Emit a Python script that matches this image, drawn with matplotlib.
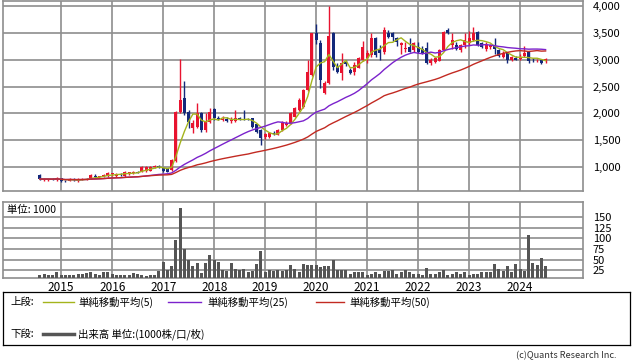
import matplotlib
matplotlib.use("Agg")
import matplotlib.pyplot as plt
import numpy as np
import pandas as pd

plt.rcParams['font.family'] = ['Noto Sans CJK JP', 'DejaVu Sans']

# monthly candles, Aug 2014 - Jul 2024
open_ = [850, 750, 755, 775, 750, 790, 740, 735, 775, 750,
         760, 760, 790, 840, 815, 820, 830, 860, 840, 860,
         830, 860, 880, 900, 910, 920, 930, 1000, 1010, 975,
         975, 945, 1110, 2030, 2280, 2030, 1730, 1750, 2010, 1690,
         1845, 2075, 1920, 1870, 1900, 1850, 1860, 1910, 1900, 1895,
         1910, 1800, 1690, 1565, 1565, 1625, 1600, 1690, 1790, 1815,
         1940, 2065, 2125, 2440, 2715, 3500, 3310, 2380, 2570, 3500,
         2870, 2750, 2960, 2810, 2780, 2850, 3000, 3030, 3090, 3405,
         3200, 3150, 3500, 3500, 3405, 3280, 3200, 3240, 3185, 3240,
         3200, 3220, 2950, 2960, 2985, 3185, 3555, 3275, 3275, 3185,
         3275, 3310, 3370, 3525, 3310, 3200, 3240, 3260, 3185, 3060,
         3130, 3000, 3040, 3010, 3070, 3140, 3000, 2990, 2990, 2970]
high = [870, 790, 785, 790, 810, 800, 760, 790, 790, 800,
        790, 800, 870, 860, 840, 870, 900, 895, 880, 880,
        920, 915, 930, 920, 1010, 1010, 1020, 1030, 1030, 1000,
        990, 1150, 2050, 3010, 2610, 2060, 1870, 2195, 2030, 2010,
        2100, 2100, 1960, 1950, 1940, 1930, 2070, 1940, 2060, 1920,
        1920, 1810, 1700, 1640, 1660, 1680, 1700, 1850, 1860, 2030,
        2120, 2280, 2460, 3000, 3500, 3670, 3370, 2600, 4005, 3520,
        2950, 3130, 3000, 2840, 2960, 3050, 3350, 3180, 3500, 3420,
        3280, 3610, 3560, 3520, 3430, 3330, 3330, 3400, 3330, 3330,
        3250, 3330, 3030, 3060, 3200, 3530, 3600, 3500, 3330, 3300,
        3500, 3530, 3610, 3540, 3330, 3330, 3300, 3400, 3200, 3170,
        3150, 3080, 3080, 3100, 3250, 3160, 3030, 3020, 3010, 3040]
low = [760, 740, 740, 760, 740, 720, 725, 730, 740, 720,
       750, 750, 780, 800, 800, 810, 820, 830, 820, 840,
       820, 850, 860, 880, 900, 910, 920, 980, 990, 900,
       900, 930, 1100, 2000, 1970, 1720, 1630, 1720, 1650, 1660,
       1820, 1880, 1880, 1850, 1840, 1830, 1840, 1880, 1870, 1880,
       1720, 1640, 1410, 1530, 1550, 1600, 1590, 1680, 1760, 1800,
       1930, 2050, 2100, 2420, 2700, 3300, 2475, 2360, 2550, 2810,
       2750, 2620, 2880, 2740, 2720, 2840, 2980, 2950, 3050, 3050,
       2990, 3100, 3400, 3350, 3250, 3100, 3150, 3140, 3150, 3120,
       3100, 2920, 2900, 2940, 2970, 3170, 3480, 3200, 3180, 3150,
       3230, 3280, 3350, 3250, 3220, 3170, 3200, 3100, 3050, 3040,
       2940, 2980, 2990, 2990, 3050, 2940, 2960, 2960, 2930, 2950]
close = [775, 775, 775, 770, 795, 735, 735, 775, 750, 760,
         780, 785, 850, 815, 820, 850, 880, 880, 860, 850,
         905, 900, 910, 890, 1000, 995, 1000, 1010, 1000, 920,
         915, 1130, 2030, 2250, 2000, 1845, 1820, 2010, 1690, 1845,
         2030, 1910, 1900, 1900, 1850, 1880, 1910, 1895, 1890, 1890,
         1750, 1660, 1535, 1615, 1640, 1615, 1690, 1830, 1830, 2000,
         2095, 2250, 2440, 2780, 3495, 3370, 2620, 2565, 3445, 2870,
         2770, 2940, 2920, 2760, 2900, 3030, 3245, 3130, 3405, 3090,
         3130, 3555, 3430, 3430, 3330, 3310, 3230, 3150, 3310, 3150,
         3130, 2940, 3000, 3030, 3185, 3525, 3500, 3370, 3200, 3275,
         3370, 3405, 3500, 3275, 3240, 3275, 3275, 3200, 3070, 3130,
         3000, 3050, 3000, 3060, 3130, 2970, 2990, 3000, 2950, 3010]
# volume, unit 1000
volume = [15, 16, 15, 14, 20, 15, 14, 14, 15, 16,
          16, 19, 20, 16, 15, 22, 21, 16, 15, 14,
          14, 15, 19, 16, 15, 12, 15, 13, 24, 44,
          26, 34, 96, 172, 75, 48, 34, 42, 19, 42,
          60, 48, 44, 26, 23, 42, 29, 26, 29, 20,
          24, 39, 71, 21, 26, 24, 26, 24, 26, 37,
          28, 20, 40, 37, 37, 37, 33, 34, 34, 50,
          26, 26, 26, 17, 20, 20, 20, 14, 16, 22,
          17, 23, 24, 26, 17, 22, 26, 21, 17, 16,
          15, 30, 16, 17, 20, 26, 15, 17, 21, 16,
          21, 15, 16, 17, 22, 21, 21, 39, 29, 24,
          34, 22, 39, 29, 24, 108, 43, 37, 54, 34]
years = ['2015', '2016', '2017', '2018', '2019', '2020', '2021', '2022', '2023', '2024']
price_ticks = [1000, 1500, 2000, 2500, 3000, 3500, 4000]
vol_ticks = [25, 50, 75, 100, 125, 150]

RED = '#e8132f'
NAVY = '#13287a'
GRID = '#8e8e8e'

W, H = 638, 362
def box(x0, y0, x1, y1):
    return [x0 / W, 1 - y1 / H, (x1 - x0) / W, (y1 - y0) / H]

o = np.array(open_); hi = np.array(high); lo = np.array(low); c = np.array(close)
x = np.arange(len(c))
jan = [5 + 12 * k for k in range(len(years))]
ma5 = pd.Series(c).rolling(5, min_periods=1).mean()
ma25 = pd.Series(c).rolling(25, min_periods=1).mean()
ma50 = pd.Series(c).rolling(50, min_periods=1).mean()

fig = plt.figure(figsize=(6.38, 3.62), dpi=100)

# upper panel: candles + moving averages
ax = fig.add_axes(box(3, 1, 583, 191))
cols = np.where(c >= o, RED, NAVY)
ax.vlines(x, lo, hi, colors=cols, lw=1, zorder=3)
ax.bar(x, np.maximum(np.abs(c - o), 12), bottom=np.minimum(o, c), width=0.72,
       color=cols, lw=0, zorder=3)
ax.plot(x, ma5, color='#a4b41c', lw=1, zorder=4)
ax.plot(x, ma25, color='#7b22cc', lw=1, zorder=4)
ax.plot(x, ma50, color='#c22a22', lw=1, zorder=4)
ax.set_xlim(-8.7, 127.8)
ax.set_ylim(552, 4098)
ax.set_xticks(jan)
ax.set_xticklabels([])
ax.set_yticks(price_ticks)
ax.set_yticklabels([f'{t:,}' for t in price_ticks])
ax.yaxis.tick_right()
ax.tick_params(length=0, labelsize=8, pad=7)
ax.grid(True, color=GRID, lw=1.2, zorder=0)
ax.set_axisbelow(True)
for s in ax.spines.values():
    s.set_color(GRID); s.set_linewidth(1.2)

# lower panel: volume
axv = fig.add_axes(box(3, 202, 583, 278))
axv.bar(x, volume, width=0.7, color='#555555', zorder=3)
axv.set_xlim(-8.7, 127.8)
axv.set_ylim(7, 185)
axv.set_xticks(jan)
axv.set_xticklabels(years)
axv.set_yticks(vol_ticks)
axv.yaxis.tick_right()
axv.tick_params(length=0, labelsize=8, pad=7)
axv.tick_params(axis='x', pad=2, labelsize=8.5)
axv.grid(True, color=GRID, lw=1.2, zorder=0)
axv.set_axisbelow(True)
for s in axv.spines.values():
    s.set_color(GRID); s.set_linewidth(1.2)
axv.text(0.007, 0.9, '単位: 1000', transform=axv.transAxes, fontsize=7.5,
         va='center', ha='left', zorder=5)

# legend box
lg = fig.add_axes(box(3, 292, 630, 345))
lg.set_xlim(3, 630)
lg.set_ylim(345, 292)
lg.set_xticks([]); lg.set_yticks([])
for s in lg.spines.values():
    s.set_color('black'); s.set_linewidth(0.9)
lg.text(10, 302, '上段:', fontsize=7.5, va='center')
lg.plot([43, 74], [302, 302], color='#a4b41c', lw=1)
lg.text(78, 302, '単純移動平均(5)', fontsize=7.5, va='center')
lg.plot([168, 201], [302, 302], color='#7b22cc', lw=1)
lg.text(207, 302, '単純移動平均(25)', fontsize=7.5, va='center')
lg.plot([316, 344], [302, 302], color='#c22a22', lw=1)
lg.text(349, 302, '単純移動平均(50)', fontsize=7.5, va='center')
lg.text(10, 334, '下段:', fontsize=7.5, va='center')
lg.plot([43, 74], [334, 334], color='#555555', lw=2.5)
lg.text(78, 334, '出来高 単位:(1000株/口/枚)', fontsize=7.5, va='center')

fig.text(617 / W, 1 - 356 / H, '(c)Quants Research Inc.', fontsize=6.6,
         ha='right', va='center', color='#333333')

fig.savefig('out.png', dpi=100)
